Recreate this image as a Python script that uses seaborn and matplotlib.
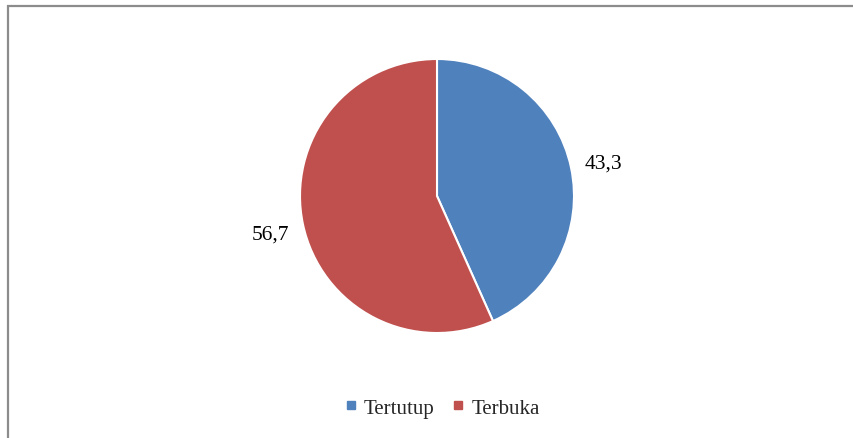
import matplotlib
matplotlib.use("Agg")
import matplotlib.pyplot as plt
from matplotlib.patches import Rectangle
from matplotlib.lines import Line2D
import seaborn as sns

categories = ["Tertutup", "Terbuka"]
values = [43.3, 56.7]
colors = ["#4F81BD", "#C0504D"]

sns.set_theme(style="white")
plt.rcParams["font.family"] = ["Liberation Serif", "DejaVu Serif"]

W, H = 854, 439
fig = plt.figure(figsize=(W / 100, H / 100), dpi=100)
ax = fig.add_axes([0, 0, 1, 1])

labels = [f"{v:.1f}".replace(".", ",") for v in values]
wedges, texts = ax.pie(
    values,
    labels=labels,
    colors=colors,
    startangle=90,
    counterclock=False,
    center=(437, H - 197),
    radius=137,
    labeldistance=1.24,
    wedgeprops=dict(edgecolor="white", linewidth=1.5),
    textprops=dict(fontsize=15.5, color="black"),
)
for t in texts:
    t.set_ha("center")
    t.set_va("center_baseline")

ax.set_xlim(0, W)
ax.set_ylim(0, H)
ax.set_aspect("equal")
ax.axis("off")

# outer chart border
ax.add_patch(Rectangle((8.5, -20), W + 20, H - 6.5 + 20, fill=False,
                       edgecolor="#8c8c8c", linewidth=1.6, clip_on=False))

handles = [Line2D([], [], marker="s", linestyle="none", markersize=5.5,
                  markerfacecolor=c, markeredgecolor=c) for c in colors]
ax.legend(handles, categories, loc="center", bbox_to_anchor=(442 / W, 1 - 409 / H),
          ncol=2, frameon=False, fontsize=15, handlelength=0.6, handletextpad=0.35,
          columnspacing=0.8, borderaxespad=0)

fig.savefig("out.png", dpi=100)
